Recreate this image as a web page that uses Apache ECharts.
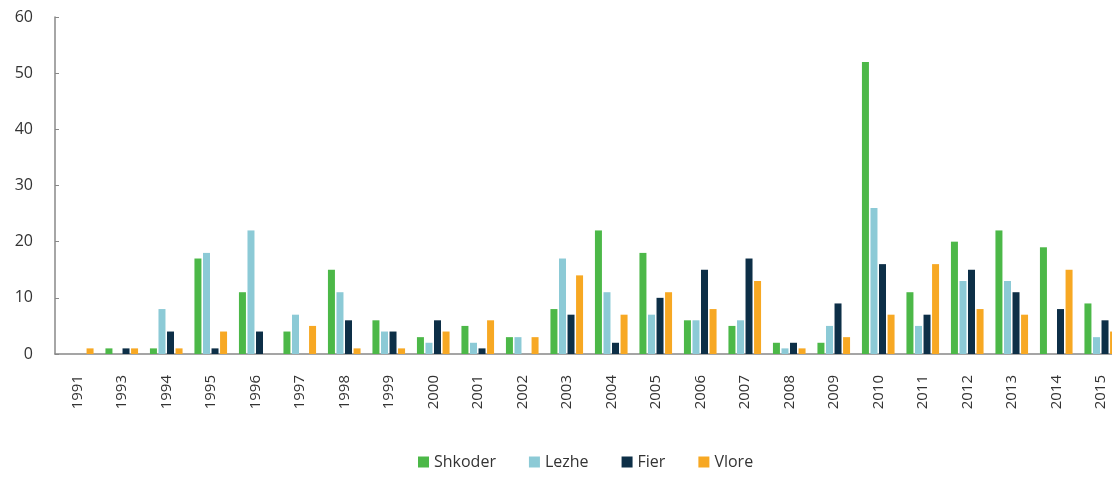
<!DOCTYPE html>
<html>
<head>
<meta charset="utf-8">
<script src="https://cdn.jsdelivr.net/npm/echarts@6/dist/echarts.min.js"></script>
<style>html,body{margin:0;padding:0;background:#fff;overflow:hidden}#c{width:1128px;height:481px}</style>
</head>
<body>
<div id="c"></div>
<script>
const years = ['1991','1993','1994','1995','1996','1997','1998','1999','2000','2001','2002','2003','2004','2005','2006','2007','2008','2009','2010','2011','2012','2013','2014','2015'];
const shkoder = [0,1,1,17,11,4,15,6,3,5,3,8,22,18,6,5,2,2,52,11,20,22,19,9];
const lezhe   = [0,0,8,18,22,7,11,4,2,2,3,17,11,7,6,6,1,5,26,5,13,13,0,3];
const fier    = [0,1,4,1,4,0,6,4,6,1,0,7,2,10,15,17,2,9,16,7,15,11,8,6];
const vlore   = [1,1,1,4,0,5,1,1,4,6,3,14,7,11,8,13,1,3,7,16,8,7,15,4];
const yTicks = [0,10,20,30,40,50,60];

const font = '"Open Sans", "DejaVu Sans", sans-serif';
const colors = ['#4cb848','#8ccad6','#0d2f47','#f7a823'];
function s(name, data, i){
  return {name, type:'bar', data, barWidth:7, barGap:'22%', barCategoryGap:'27%',
    itemStyle:{color:colors[i]}};
}
const chart = echarts.init(document.getElementById('c'));
chart.setOption({
  animation:false,
  textStyle:{fontFamily:font},
  grid:{left:55, top:17, height:337, width:1068, containLabel:false},
  legend:{left:413, bottom:6, itemWidth:11, itemHeight:11, itemGap:33, icon:'rect',
    textStyle:{fontSize:16, color:'#333', fontFamily:font},
    data:['Shkoder','Lezhe','Fier','Vlore']},
  xAxis:{type:'category', data:years, boundaryGap:true,
    axisLine:{lineStyle:{color:'#888', width:1.5}},
    axisTick:{show:false},
    axisLabel:{rotate:90, margin:21, fontSize:15, color:'#333', interval:0}},
  yAxis:{type:'value', min:0, max:60, interval:10,
    splitLine:{show:false},
    axisLine:{show:true, lineStyle:{color:'#888', width:1.5}},
    axisTick:{show:true, inside:true, length:4, lineStyle:{color:'#888'}},
    axisLabel:{fontSize:16, color:'#333', margin:22,
      formatter: v => yTicks.includes(v) ? String(v) : ''}},
  series:[s('Shkoder',shkoder,0), s('Lezhe',lezhe,1), s('Fier',fier,2), s('Vlore',vlore,3)]
});
</script>
</body>
</html>
